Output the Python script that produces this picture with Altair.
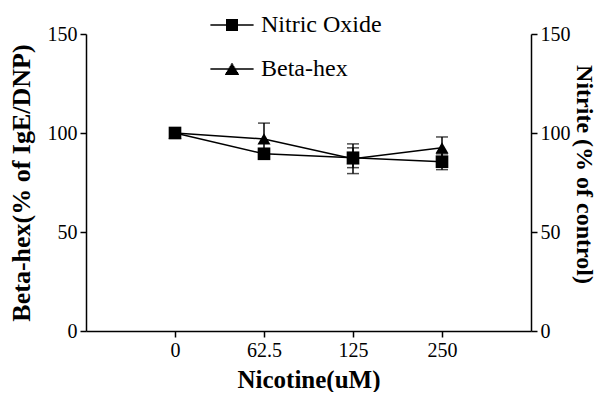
import json
import altair as alt
import pandas as pd

categories = ["0", "62.5", "125", "250"]
beta_hex = [100, 97, 87, 92.5]
beta_hex_err = [0, 8, 7.5, 5.5]
nitric_oxide = [100, 89.5, 87.5, 85.5]
nitric_oxide_err = [0, 2, 5, 4]
series_names = ["Nitric Oxide", "Beta-hex"]
y_ticks = [0, 50, 100, 150]

rows = []
for i, c in enumerate(categories):
    rows.append(dict(series="Nitric Oxide", pos=i, cat=c, value=nitric_oxide[i], err=nitric_oxide_err[i]))
    rows.append(dict(series="Beta-hex", pos=i, cat=c, value=beta_hex[i], err=beta_hex_err[i]))
df = pd.DataFrame(rows)
df["lo"] = df["value"] - df["err"]
df["hi"] = df["value"] + df["err"]

FONT = "Liberation Serif"
label_expr = json.dumps(categories) + "[datum.value]"

x_enc = alt.X(
    "pos:Q",
    scale=alt.Scale(domain=[-1, len(categories)], nice=False, zero=False),
    axis=alt.Axis(
        values=list(range(len(categories))), labelExpr=label_expr,
        title="Nicotine(uM)", grid=False, tickSize=6, labelPadding=3,
        titlePadding=7, labelFont=FONT, labelFontSize=20,
        titleFont=FONT, titleFontSize=25, titleFontWeight="bold",
    ),
)


def y_enc(field, title, orient):
    extra = {} if orient == "left" else {"titleY": 140}
    return alt.Y(
        field,
        scale=alt.Scale(domain=[0, 150], nice=False),
        axis=alt.Axis(values=y_ticks, title=title, orient=orient, grid=False,
                      tickSize=6, labelPadding=3,
                      titlePadding=13 if orient == "left" else 1,
                      labelFont=FONT, labelFontSize=20,
                      titleFont=FONT, titleFontSize=26 if orient == "left" else 24,
                      titleFontWeight="bold",
                      titleAngle=-90 if orient == "left" else 90, **extra),
    )


def series_group(name, shape, size, title, orient):
    d = df[df["series"] == name]
    base = alt.Chart(d)
    de = d[d["err"] > 0]
    ebase = alt.Chart(de)
    line = base.mark_line(color="black", strokeWidth=1.5).encode(
        x=x_enc, y=y_enc("value:Q", title, orient))
    rule = ebase.mark_rule(color="black", strokeWidth=1.5).encode(
        x=x_enc, y=y_enc("lo:Q", title, orient), y2="hi:Q")
    cap_hi = ebase.mark_tick(color="black", thickness=1.5, size=12, orient="horizontal").encode(
        x=x_enc, y=y_enc("hi:Q", title, orient))
    cap_lo = ebase.mark_tick(color="black", thickness=1.5, size=12, orient="horizontal").encode(
        x=x_enc, y=y_enc("lo:Q", title, orient))
    pts = base.mark_point(shape=shape, filled=True, size=size, color="black", opacity=1).encode(
        x=x_enc, y=y_enc("value:Q", title, orient))
    return alt.layer(line, rule, cap_hi, cap_lo, pts)


# legend glyphs: a line with a solid marker drawn from stroked strips
def glyph(kind):
    parts = ["M-3.6,0H3.6"]
    for k in range(8):
        yy = -0.875 + 0.25 * k
        if kind == "square":
            hw = 1.0
        else:
            hw = 1.2 * (yy + 1.05) / 2.0
        parts.append(f"M{-hw:.3f},{yy:.3f}H{hw:.3f}")
    return "".join(parts)


legend_layer = alt.Chart(df).mark_point(
    filled=False, opacity=0, color="black", strokeWidth=1.5
).encode(
    x=x_enc,
    y=y_enc("value:Q", "Beta-hex(% of IgE/DNP)", "left"),
    shape=alt.Shape(
        "series:N",
        scale=alt.Scale(domain=series_names, range=[glyph("square"), glyph("triangle")]),
        legend=alt.Legend(
            title=None, orient="none", legendX=134, legendY=-21,
            symbolSize=144, symbolOpacity=1,
            symbolStrokeColor="black", symbolStrokeWidth=1.5,
            labelFont=FONT, labelFontSize=24, labelColor="black",
            labelOffset=17, rowPadding=20, padding=0,
        ),
    ),
)

left = alt.layer(
    series_group("Beta-hex", "triangle-up", 170, "Beta-hex(% of IgE/DNP)", "left"),
    legend_layer,
)
right = series_group("Nitric Oxide", "square", 160, "Nitrite (% of control)", "right")

chart = alt.layer(left, right).resolve_scale(y="independent").properties(
    width=445, height=297,
    autosize=alt.AutoSizeParams(type="none"),
    padding={"left": 78, "top": 26, "right": 66, "bottom": 61},
).configure_view(stroke=None).configure_axis(
    domainColor="black", domainWidth=1.5, tickColor="black", tickWidth=1.5,
    labelColor="black", titleColor="black",
)

chart.save("out.html", embed_options={"renderer": "svg", "actions": False})
